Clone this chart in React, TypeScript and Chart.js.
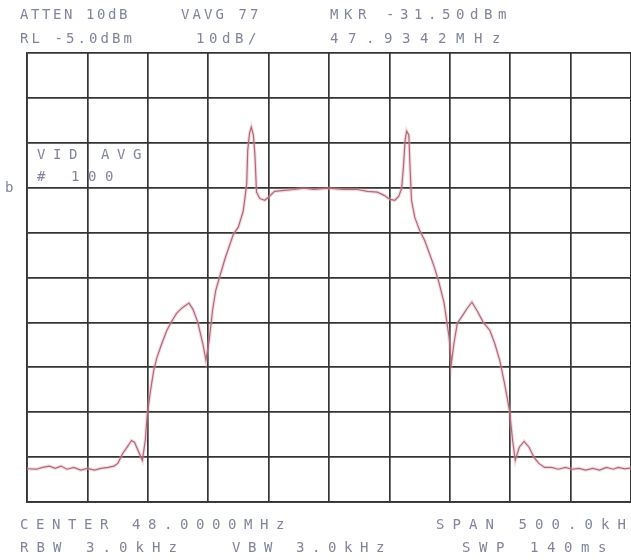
import React, { useEffect, useRef } from "react";
import { Chart, registerables } from "chart.js";

Chart.register(...registerables);

// Frequency offset from centre (48.0000 MHz), kHz
const freqKHz = [
  -250, -242.1, -237.2, -231.5, -226.6, -221.8, -216.9, -211.3, -205.6, -199.9, -194.3, -188.6, -182.9,
  -178.0, -174.8, -170.8, -166.7, -163.5, -161.0, -157.8, -154.5, -152.1, -150.5, -148.1, -145.1, -142.4,
  -138.4, -134.3, -130.3, -126.2, -123.0, -119.7, -115.9, -112.6, -108.6, -104.5, -101.9, -99.2, -96.4,
  -93.8, -89.7, -85.7, -79.2, -75.1, -71.1, -69.5, -68.1, -67.3, -65.8, -64.3, -62.6, -61.3, -60.0,
  -57.3, -53.2, -49.2, -45.1, -37.0, -28.9, -20.8, -12.7, -0.6, 11.6, 23.7, 31.8, 40.0, 45.6, 50.5,
  54.5, 57.8, 60.2, 61.6, 63.0, 64.3, 66.1, 67.1, 68.3, 71.0, 75.0, 79.1, 83.1, 87.2, 91.0, 95.3,
  99.4, 101.3, 103.4, 106.2, 110.2, 114.3, 118.3, 122.4, 127.7, 133.2, 137.2, 141.3, 145.3, 149.4,
  152.0, 154.2, 157.5, 161.5, 165.6, 169.6, 173.7, 178.5, 184.2, 189.9, 195.6, 201.2, 206.9, 212.6,
  218.3, 224.0, 229.6, 235.3, 239.4, 245.0, 250.0,
];

// Trace level, dBm (video average, 100 sweeps)
const levelDbm = [
  -97.6, -97.7, -97.3, -97.0, -97.5, -97.0, -97.7, -97.3, -97.9, -97.5, -97.9, -97.5, -97.3,
  -97.0, -96.4, -94.2, -92.6, -91.3, -91.7, -93.7, -95.7, -91.3, -85.7, -80.8, -75.7, -72.8,
  -69.7, -66.8, -64.8, -63.0, -62.1, -61.4, -60.7, -62.1, -65.0, -69.7, -73.4, -69.0, -62.3,
  -57.9, -54.1, -50.5, -45.4, -43.8, -40.3, -37.1, -34.0, -26.7, -22.9, -21.5, -23.3, -27.8, -36.0,
  -37.4, -37.8, -36.9, -35.8, -35.6, -35.4, -35.1, -35.4, -35.1, -35.4, -35.4, -35.8, -36.0, -36.7, -37.6,
  -37.8, -36.9, -35.1, -30.4, -24.4, -22.4, -23.3, -30.5, -37.8, -41.6, -44.5, -46.7, -49.6, -52.7, -56.1, -60.7,
  -68.3, -74.1, -69.7, -65.2, -63.6, -61.9, -60.5, -62.3, -65.0, -66.8, -69.7, -73.4, -78.6, -84.6,
  -91.3, -95.7, -92.8, -91.5, -92.8, -95.0, -96.4, -97.3, -97.3, -97.7, -97.3, -97.7, -97.5, -97.9,
  -97.5, -97.9, -97.3, -97.7, -97.3, -97.6, -97.4,
];

// Axis settings: span 500 kHz (50 kHz/div), RL -5.0 dBm, 10 dB/div
const xMinKHz = -250;
const xMaxKHz = 250;
const xStepKHz = 50;
const yMinDbm = -105;
const yMaxDbm = -5;
const yStepDb = 10;

type Label = { text: string; x: number; y: number; adv: number };

const labels: Label[] = [
  { text: "ATTEN 10dB", x: 20, y: 7, adv: 11 },
  { text: "VAVG 77", x: 181, y: 7, adv: 11.5 },
  { text: "MKR -31.50dBm", x: 330, y: 7, adv: 14 },
  { text: "RL -5.0dBm", x: 20, y: 31, adv: 11.5 },
  { text: "10dB/", x: 196, y: 31, adv: 13 },
  { text: "47.9342MHz", x: 330, y: 31, adv: 18 },
  { text: "VID AVG", x: 37, y: 147, adv: 16 },
  { text: "# 100", x: 37, y: 169, adv: 17 },
  { text: "b", x: 5, y: 180, adv: 12 },
  { text: "CENTER 48.0000MHz", x: 20, y: 517, adv: 16 },
  { text: "SPAN 500.0kHz", x: 436, y: 517, adv: 16.5 },
  { text: "RBW 3.0kHz", x: 20, y: 540, adv: 16.5 },
  { text: "VBW 3.0kHz", x: 232, y: 540, adv: 16 },
  { text: "SWP 140ms", x: 462, y: 540, adv: 17 },
];

const FONT_SIZE = 14;
const CHAR_W = FONT_SIZE * 0.602;

export default function App() {
  const ref = useRef<HTMLCanvasElement | null>(null);

  useEffect(() => {
    if (!ref.current) return;
    const points = freqKHz.map((f, i) => ({ x: f, y: levelDbm[i] }));
    const gridColor = "#353535";
    const chart = new Chart(ref.current, {
      type: "line",
      data: {
        datasets: [
          {
            data: points,
            borderColor: "rgba(240,150,165,0.35)",
            borderWidth: 3.5,
            pointRadius: 0,
            tension: 0,
          },
          {
            data: points,
            borderColor: "#7d5866",
            borderWidth: 1.2,
            pointRadius: 0,
            tension: 0,
          },
        ],
      },
      options: {
        animation: false,
        responsive: false,
        devicePixelRatio: 1,
        layout: { padding: { left: 27, top: 53, right: -13, bottom: 58 } },
        plugins: { legend: { display: false }, tooltip: { enabled: false } },
        scales: {
          x: {
            type: "linear",
            min: xMinKHz,
            max: xMaxKHz,
            ticks: { display: false, stepSize: xStepKHz },
            grid: { color: gridColor, lineWidth: 1.7, drawTicks: false },
            border: { display: true, color: gridColor, width: 1.7 },
          },
          y: {
            type: "linear",
            min: yMinDbm,
            max: yMaxDbm,
            ticks: { display: false, stepSize: yStepDb },
            grid: { color: gridColor, lineWidth: 1.7, drawTicks: false },
            border: { display: true, color: gridColor, width: 1.7 },
          },
        },
      },
    });
    return () => chart.destroy();
  }, []);

  return (
    <div
      style={{
        position: "fixed",
        left: 0,
        top: 0,
        width: 631,
        height: 560,
        overflow: "hidden",
        background: "#ffffff",
      }}
    >
      <canvas ref={ref} width={631} height={560} style={{ position: "absolute", left: 0, top: 0 }} />
      {labels.map((l, i) => (
        <div
          key={i}
          style={{
            position: "absolute",
            left: l.x,
            top: l.y,
            fontFamily: "'DejaVu Sans Mono', monospace",
            fontSize: FONT_SIZE,
            lineHeight: "15px",
            letterSpacing: `${(l.adv - CHAR_W).toFixed(2)}px`,
            color: "#80859a",
            whiteSpace: "pre",
          }}
        >
          {l.text}
        </div>
      ))}
    </div>
  );
}
